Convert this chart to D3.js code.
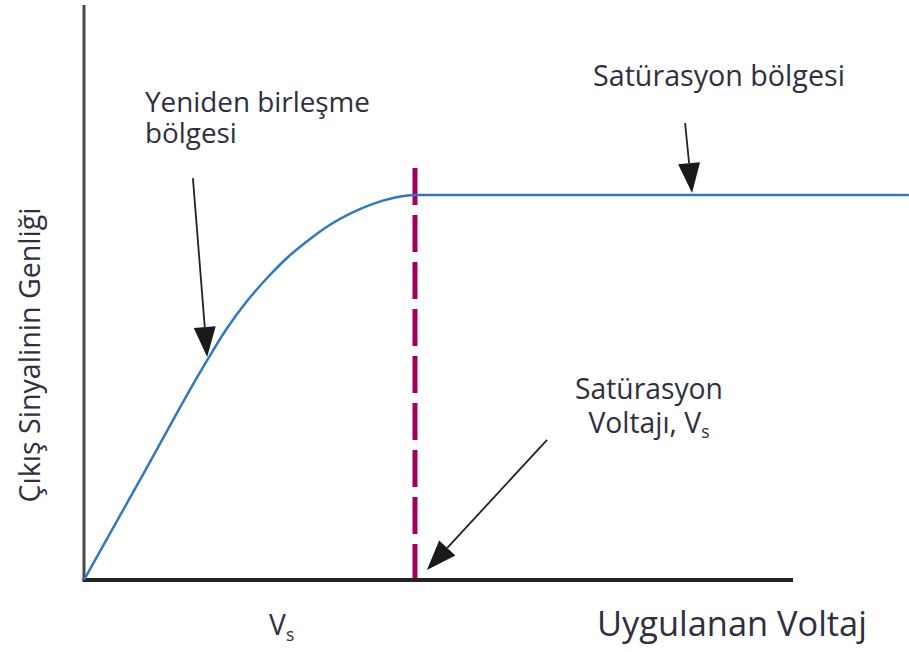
<!DOCTYPE html>
<html>
<head>
<meta charset="utf-8">
<script src="https://cdn.jsdelivr.net/npm/d3@7"></script>
<style>
  html, body { margin: 0; padding: 0; background: #fff; }
  svg { display: block; }
  text { font-family: "Open Sans", Lato, sans-serif; fill: #2f2f40; }
</style>
</head>
<body>
<svg id="chart" width="909" height="652"></svg>
<script>
// Applied voltage, in units of the saturation voltage Vs
const voltage = [0, 0.184, 0.366, 0.429, 0.492, 0.556, 0.619, 0.683, 0.746, 0.810, 0.873, 0.937, 1, 2.492];
// Output signal amplitude, relative to the saturation level
const amplitude = [0, 0.283, 0.562, 0.650, 0.724, 0.787, 0.841, 0.886, 0.924, 0.954, 0.977, 0.993, 1, 1];

const saturationVoltage = 1;

// Annotation arrows: tail and tip in data units
const arrows = [
  { from: [0.329, 1.044], to: [0.372, 0.579] },
  { from: [1.816, 1.187], to: [1.837, 1.005] },
  { from: [1.399, 0.364], to: [1.036, 0.026] }
];

const svg = d3.select("#chart");
const x = d3.scaleLinear().domain([0, 1]).range([84, 415]);
const y = d3.scaleLinear().domain([0, 1]).range([580, 195]);

// Axes drawn as plain lines, no ticks
svg.append("line")
  .attr("x1", x(0)).attr("x2", x(0))
  .attr("y1", y(0)).attr("y2", 5)
  .attr("stroke", "#4a4a4a").attr("stroke-width", 3);
svg.append("line")
  .attr("x1", x(0) - 1.5).attr("x2", 793)
  .attr("y1", y(0)).attr("y2", y(0))
  .attr("stroke", "#222").attr("stroke-width", 4);

// Saturation voltage marker
svg.append("line")
  .attr("x1", x(saturationVoltage)).attr("x2", x(saturationVoltage))
  .attr("y1", 168).attr("y2", y(0) - 2)
  .attr("stroke", "#A3005C").attr("stroke-width", 5)
  .attr("stroke-dasharray", "37 10");

// Response curve
const pts = voltage.map((v, i) => [v, amplitude[i]]);
const line = d3.line()
  .x(d => x(d[0])).y(d => y(d[1]))
  .curve(d3.curveMonotoneX);
svg.append("path")
  .attr("d", line(pts))
  .attr("fill", "none")
  .attr("stroke", "#3378BD")
  .attr("stroke-width", 2.5);

// Arrows
arrows.forEach(a => {
  const x1 = x(a.from[0]), y1 = y(a.from[1]);
  const x2 = x(a.to[0]), y2 = y(a.to[1]);
  const ang = Math.atan2(y2 - y1, x2 - x1);
  const len = 30, half = 11;
  const bx = x2 - len * Math.cos(ang), by = y2 - len * Math.sin(ang);
  const px = -Math.sin(ang) * half, py = Math.cos(ang) * half;
  svg.append("line")
    .attr("x1", x1).attr("y1", y1).attr("x2", bx).attr("y2", by)
    .attr("stroke", "#222").attr("stroke-width", 1.8);
  svg.append("path")
    .attr("d", `M${x2},${y2}L${bx + px},${by + py}L${bx - px},${by - py}Z`)
    .attr("fill", "#1a1a1a");
});

// Labels; fitTo scales the font so the text spans the given width
function label(txt, tx, ty, anchor) {
  return svg.append("text")
    .attr("x", tx).attr("y", ty)
    .attr("font-size", 24)
    .attr("text-anchor", anchor || "start")
    .text(txt);
}
function fitTo(sel, width) {
  const w = sel.node().getComputedTextLength();
  const size = 24 * width / w;
  sel.attr("font-size", size);
  return size;
}
function subscript(sel, size, dy) {
  sel.append("tspan").attr("font-size", size * 0.62).attr("dy", dy).text("s");
}

const yen = label("Yeniden birleşme", 145, 112);
const annSize = fitTo(yen, 225);
label("bölgesi", 145, 143).attr("font-size", annSize);

fitTo(label("Satürasyon bölgesi", 593, 86), 252);

const sat = label("Satürasyon", 649, 399, "middle");
const satSize = fitTo(sat, 148);
const vLine = label("Voltajı, V", 649, 433, "middle").attr("font-size", satSize);
subscript(vLine, satSize, 5);

const vs = label("V", 269, 635).attr("font-size", satSize);
subscript(vs, satSize, 6);

fitTo(label("Uygulanan Voltaj", 597, 636), 270);

const yLab = svg.append("text")
  .attr("transform", "translate(40,355) rotate(-90)")
  .attr("font-size", 24)
  .attr("text-anchor", "middle")
  .text("Çıkış Sinyalinin Genliği");
fitTo(yLab, 295);
</script>
</body>
</html>
